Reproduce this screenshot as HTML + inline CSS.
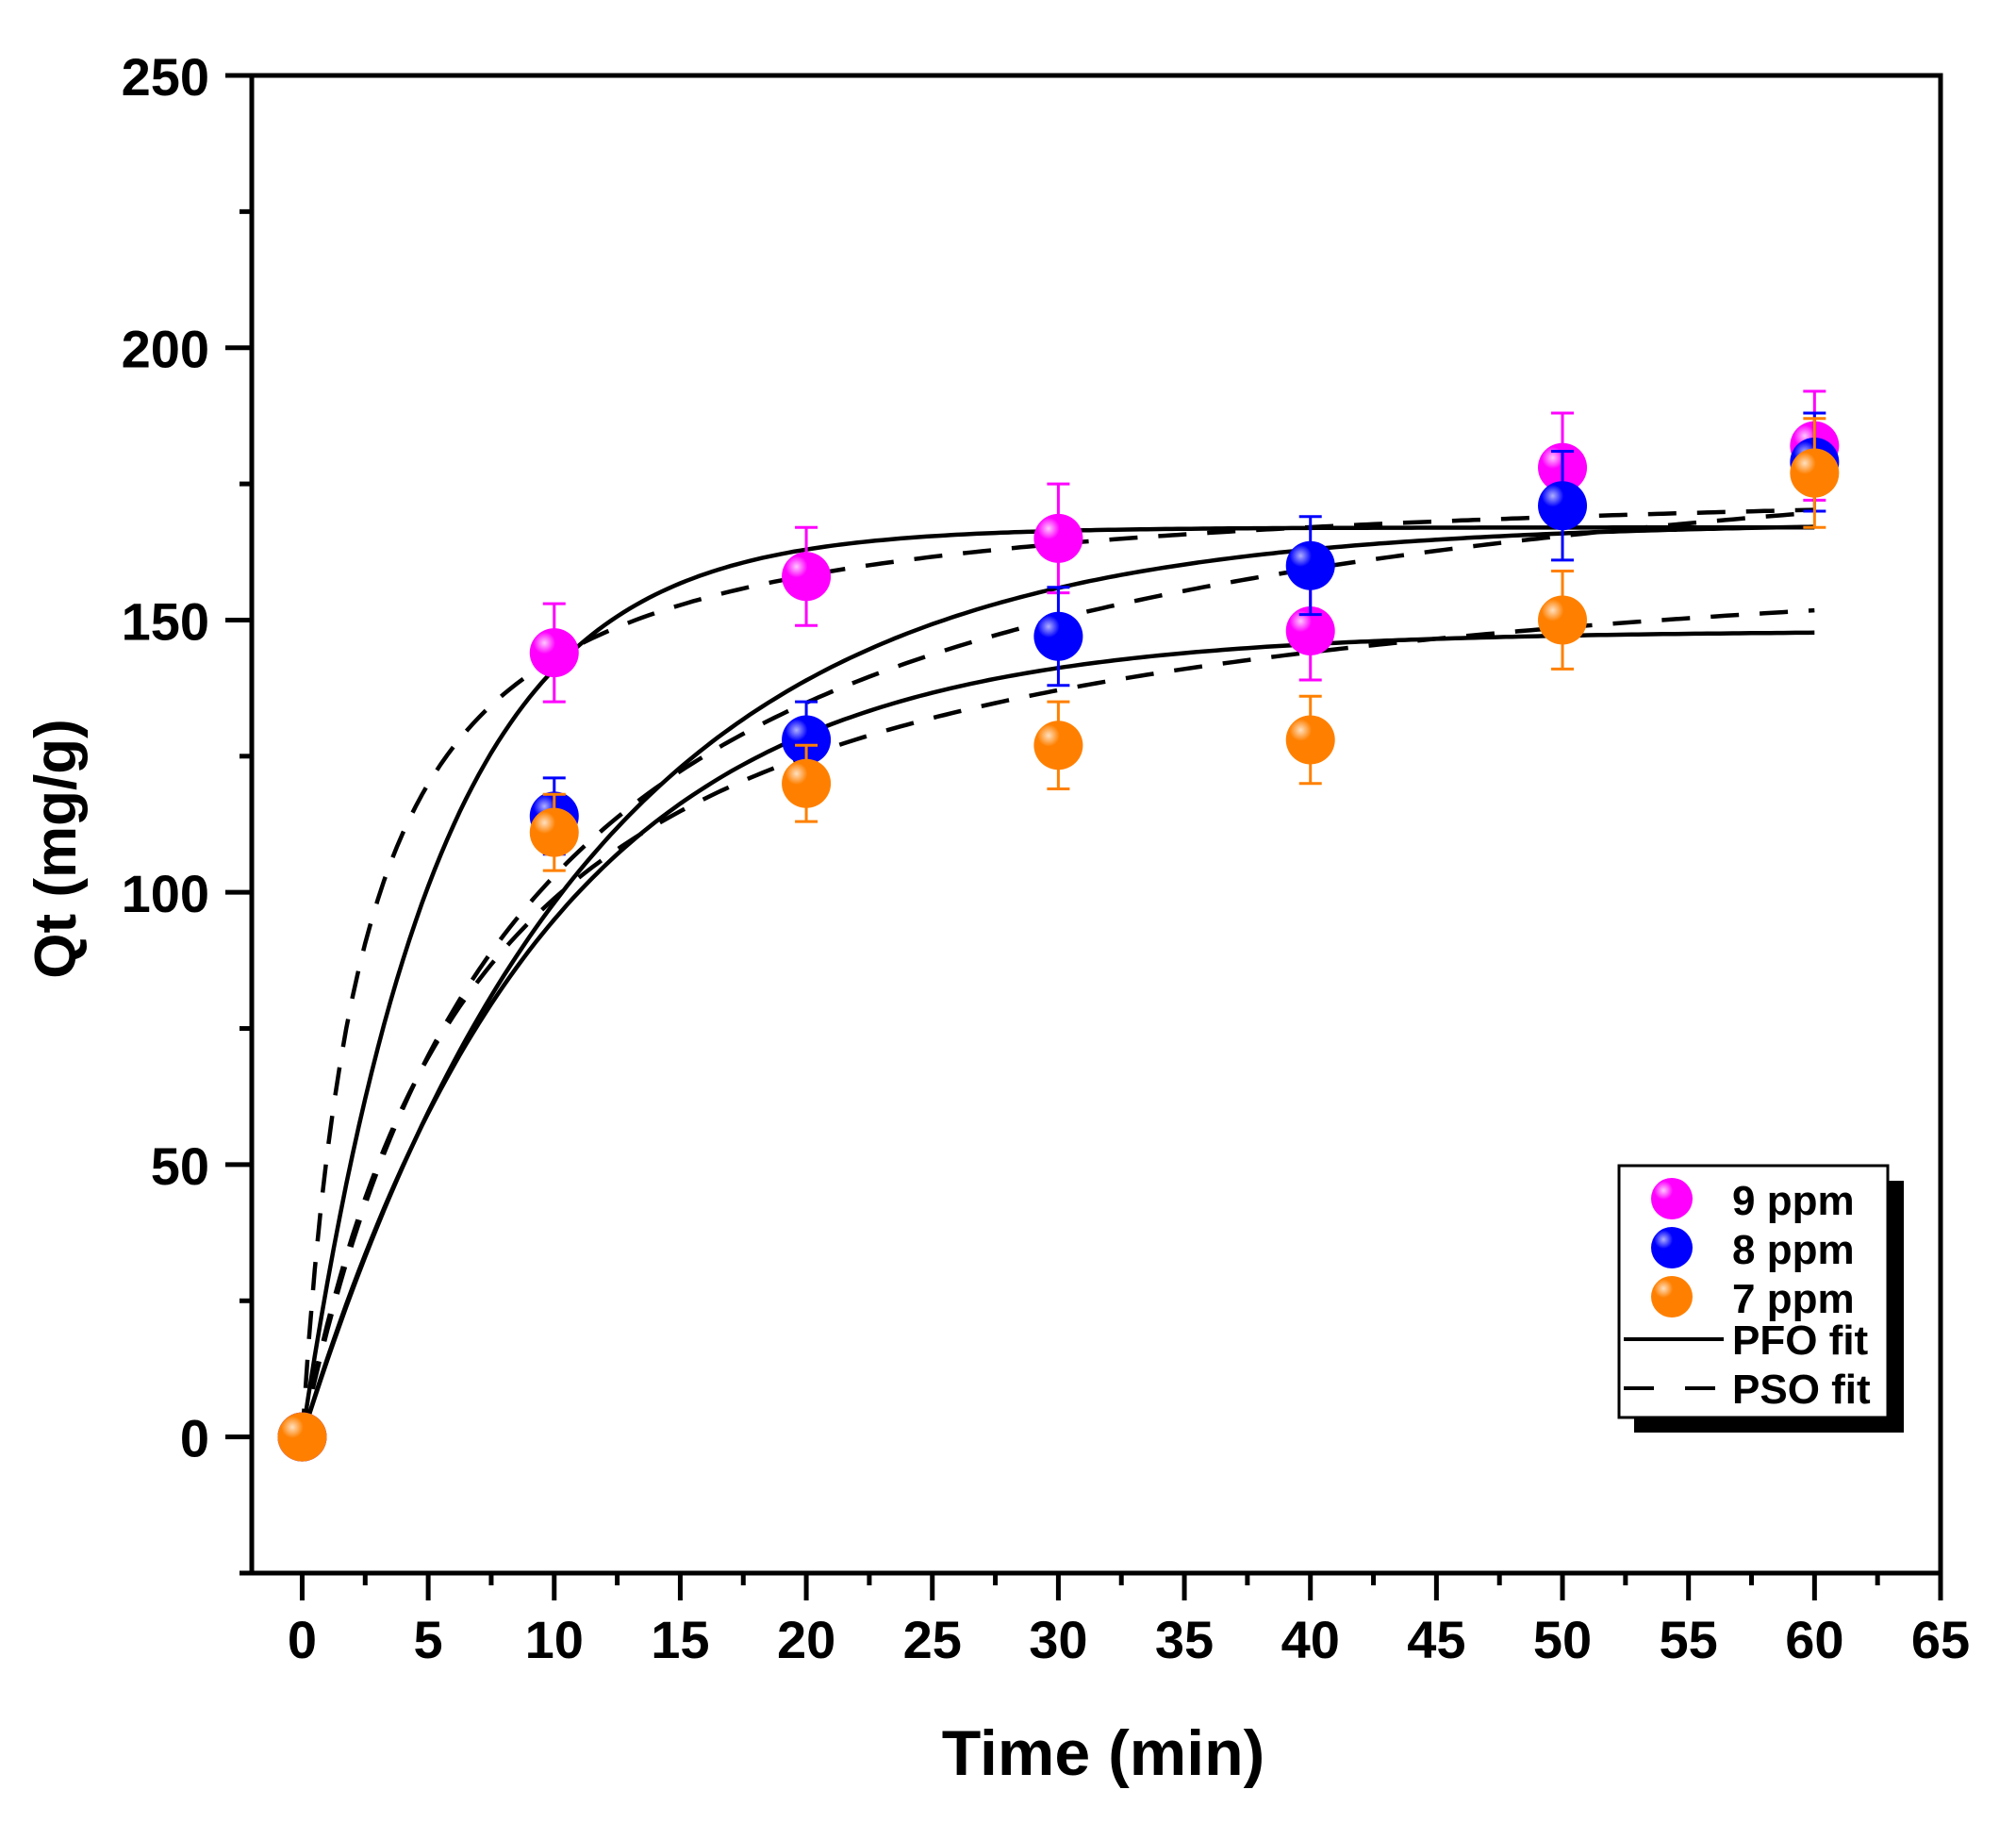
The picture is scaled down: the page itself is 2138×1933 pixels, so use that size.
<!DOCTYPE html>
<html><head><meta charset="utf-8"><style>
html,body{margin:0;padding:0;background:#fff;}
svg{display:block;font-family:"Liberation Sans",Arial,sans-serif;font-weight:bold;}
</style></head><body>
<svg id="chart" width="2138" height="1933" viewBox="0 0 2138 1933" xmlns="http://www.w3.org/2000/svg">
<defs>
<radialGradient id="gm" cx="0.3" cy="0.3" r="0.75"><stop offset="0" stop-color="#ffc8ff"/><stop offset="0.3" stop-color="#ff00ff"/><stop offset="1" stop-color="#ff00ff"/></radialGradient>
<radialGradient id="gb" cx="0.3" cy="0.3" r="0.75"><stop offset="0" stop-color="#b0b0ff"/><stop offset="0.3" stop-color="#0000ff"/><stop offset="1" stop-color="#0000ff"/></radialGradient>
<radialGradient id="go" cx="0.3" cy="0.3" r="0.75"><stop offset="0" stop-color="#ffe0c0"/><stop offset="0.3" stop-color="#ff8000"/><stop offset="1" stop-color="#ff8000"/></radialGradient>
</defs>
<g id="plot"></g>
<text x="1170" y="1882" font-size="68" text-anchor="middle">Time (min)</text>
<text transform="translate(80,900) rotate(-90)" font-size="62" text-anchor="middle">Qt (mg/g)</text>
<g>
<rect x="1733" y="1252" width="286" height="267" fill="#000"/>
<rect x="1717" y="1236" width="285" height="267" fill="#fff" stroke="#000" stroke-width="3"/>
<circle cx="1773" cy="1271" r="22" fill="url(#gm)"/>
<circle cx="1773" cy="1323" r="22" fill="url(#gb)"/>
<circle cx="1773" cy="1375" r="22" fill="url(#go)"/>
<text x="1837" y="1288" font-size="44">9 ppm</text>
<text x="1837" y="1340" font-size="44">8 ppm</text>
<text x="1837" y="1392" font-size="44">7 ppm</text>
<line x1="1722" y1="1420" x2="1828" y2="1420" stroke="#000" stroke-width="4"/>
<line x1="1722" y1="1472" x2="1820" y2="1472" stroke="#000" stroke-width="4" stroke-dasharray="32 33"/>
<text x="1837" y="1436" font-size="44">PFO fit</text>
<text x="1837" y="1488" font-size="44">PSO fit</text>
</g>
</svg>
<script>
const times=[0,10,20,30,40,50,60];
const s9=[0,144,158,165,148,178,182];
const s8=[0,114,128,147,160,171,179];
const s7=[0,111,120,127,128,150,177];
const e9=[0,9,9,10,9,10,10];
const e8=[0,7,7,9,9,10,9];
const e7=[0,7,7,8,8,9,10];
const pfoQe=[167,168,148];
const pfoK=[0.186,0.0877,0.1027];
const psoQe=[177,195,170];
const psoA=[0.42,0.112,0.139];
const xTicks=[0,5,10,15,20,25,30,35,40,45,50,55,60,65];
const yTicks=[0,50,100,150,200,250];

const NS="http://www.w3.org/2000/svg";
const X0=267,X1=2058,Y0=80,Y1=1668,xmin=-2,xmax=65,ymin=-25,ymax=250;
const sx=v=>X0+(v-xmin)/(xmax-xmin)*(X1-X0);
const sy=v=>Y1-(v-ymin)/(ymax-ymin)*(Y1-Y0);
const g=document.getElementById('plot');
function mk(tag,attrs,parent){const e=document.createElementNS(NS,tag);for(const k in attrs)e.setAttribute(k,attrs[k]);(parent||g).appendChild(e);return e;}

const fr=mk('rect',{x:X0,y:Y0,width:X1-X0,height:Y1-Y0,fill:'none',stroke:'#000','stroke-width':5});


xTicks.forEach((t,i)=>{
  const l=mk('line',{x1:sx(t),x2:sx(t),y1:Y1,y2:Y1+29,stroke:'#000','stroke-width':5});
  
  
  if(i<xTicks.length-1){const m=mk('line',{x1:sx(t+2.5),x2:sx(t+2.5),y1:Y1,y2:Y1+13,stroke:'#000','stroke-width':5});
    
    }
  const tx=mk('text',{x:sx(t),y:1758,'font-size':56,'text-anchor':'middle'});tx.textContent=t;
  
  
});
yTicks.forEach((t,i)=>{
  const l=mk('line',{x1:X0-28,x2:X0,y1:sy(t),y2:sy(t),stroke:'#000','stroke-width':5});
  
  
  const m=mk('line',{x1:X0-13,x2:X0,y1:sy(t-25),y2:sy(t-25),stroke:'#000','stroke-width':5});
  
  
  const tx=mk('text',{x:222,y:sy(t)+21,'font-size':56,'text-anchor':'end'});tx.textContent=t;
  
  
});
for(let i=0;i<3;i++){
  let p='',q='';
  for(let t=0;t<=60;t+=0.25){
    const a=pfoQe[i]*(1-Math.exp(-pfoK[i]*t));
    const b=psoQe[i]*psoA[i]*t/(1+psoA[i]*t);
    p+=(t?'L':'M')+sx(t).toFixed(1)+','+sy(a).toFixed(1);
    q+=(t?'L':'M')+sx(t).toFixed(1)+','+sy(b).toFixed(1);
  }
  const l1=mk('path',{d:p,fill:'none',stroke:'#000','stroke-width':4.5});
  
  
  const l2=mk('path',{d:q,fill:'none',stroke:'#000','stroke-width':4.5,'stroke-dasharray':'30 22'});
  
  
}
const series=[[s9,e9,'#ff00ff','url(#gm)','9ppm'],[s8,e8,'#0000ff','url(#gb)','8ppm'],[s7,e7,'#ff8000','url(#go)','7ppm']];
series.forEach(([vals,errs,col,fill,nm])=>{
  vals.forEach((v,j)=>{
    const x=sx(times[j]);
    if(errs[j]>0){
      const eb=mk('path',{d:`M${x},${sy(v-errs[j])}V${sy(v+errs[j])}M${x-12},${sy(v-errs[j])}h24M${x-12},${sy(v+errs[j])}h24`,stroke:col,'stroke-width':3,fill:'none'});
      
      
    }
    const c=mk('circle',{cx:x,cy:sy(v),r:26,fill:fill});
    
    
  });
});
</script>
</body></html>
